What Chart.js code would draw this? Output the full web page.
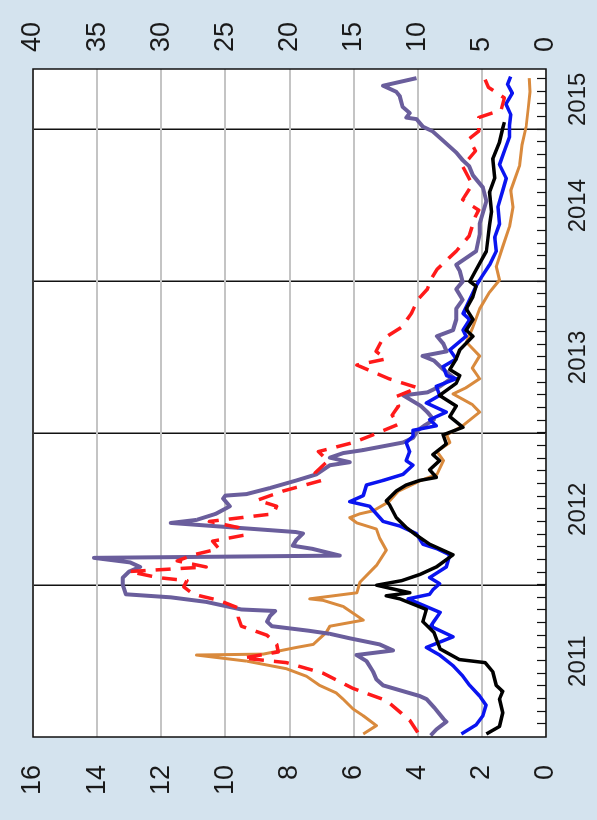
<!DOCTYPE html>
<html>
<head>
<meta charset="utf-8">
<script src="https://cdn.jsdelivr.net/npm/chart.js@4.4.1/dist/chart.umd.min.js"></script>
<style>
  html, body { margin: 0; padding: 0; background: #d4e3ee; width: 597px; height: 820px; overflow: hidden; }
  /* chart is drawn landscape and turned a quarter turn, like the source figure */
  #wrap { position: absolute; left: 0; top: 0; width: 820px; height: 597px;
          transform-origin: 0 0; transform: translate(0, 820px) rotate(-90deg); }
</style>
</head>
<body>
<div id="wrap"><canvas id="chart" width="820" height="597"></canvas></div>
<script>
// time in decimal years, values in left-axis units (0-16)
const purpleT = [2011.01, 2011.05, 2011.10, 2011.12, 2011.19, 2011.25, 2011.27, 2011.34, 2011.38, 2011.43, 2011.50, 2011.54, 2011.57, 2011.61, 2011.65, 2011.68, 2011.70, 2011.73, 2011.76, 2011.80, 2011.83, 2011.84, 2011.89, 2011.92, 2011.94, 2012.00, 2012.05, 2012.09, 2012.12, 2012.15, 2012.18, 2012.195, 2012.24, 2012.26, 2012.30, 2012.34, 2012.35, 2012.41, 2012.43, 2012.47, 2012.52, 2012.57, 2012.59, 2012.60, 2012.64, 2012.69, 2012.73, 2012.79, 2012.81, 2012.84, 2012.87, 2012.89, 2012.94, 2012.97, 2013.02, 2013.05, 2013.09, 2013.14, 2013.18, 2013.25, 2013.27, 2013.31, 2013.37, 2013.42, 2013.48, 2013.51, 2013.54, 2013.59, 2013.64, 2013.68, 2013.75, 2013.82, 2013.88, 2013.95, 2014.00, 2014.07, 2014.11, 2014.20, 2014.31, 2014.38, 2014.53, 2014.62, 2014.70, 2014.76, 2014.80, 2014.85, 2014.93, 2014.99, 2015.02, 2015.07, 2015.08, 2015.11, 2015.15, 2015.22, 2015.25, 2015.29, 2015.34];
const purpleV = [3.6, 3.42, 3.11, 3.2, 3.47, 3.73, 3.94, 5.08, 5.29, 5.39, 5.6, 5.91, 4.77, 5.19, 6.12, 6.75, 7.4, 8.55, 8.7, 8.6, 8.45, 9.5, 10.6, 11.7, 13.1, 13.2, 13.2, 13.0, 12.66, 12.97, 14.1, 6.43, 7.3, 7.9, 7.78, 7.58, 7.8, 11.7, 10.9, 10.3, 9.86, 10.07, 10.0, 9.34, 8.61, 7.78, 7.16, 6.74, 6.12, 6.74, 6.33, 5.7, 4.46, 4.15, 4.0, 3.8, 3.5, 3.7, 3.9, 4.45, 3.7, 3.3, 2.9, 3.2, 3.5, 3.85, 3.1, 3.2, 3.4, 2.9, 2.8, 2.8, 2.6, 2.8, 2.6, 2.69, 2.8, 2.18, 2.07, 2.07, 1.86, 1.97, 2.28, 2.4, 2.6, 2.8, 3.22, 3.54, 3.84, 4.04, 4.36, 4.25, 4.47, 4.56, 4.67, 5.08, 4.04];

const redT = [2011.03, 2011.11, 2011.24, 2011.32, 2011.42, 2011.49, 2011.52, 2011.56, 2011.61, 2011.67, 2011.73, 2011.79, 2011.85, 2011.90, 2011.94, 2011.99, 2012.03, 2012.05, 2012.09, 2012.12, 2012.16, 2012.20, 2012.24, 2012.29, 2012.33, 2012.38, 2012.42, 2012.47, 2012.52, 2012.56, 2012.62, 2012.69, 2012.74, 2012.82, 2012.88, 2012.94, 2012.99, 2013.06, 2013.12, 2013.18, 2013.24, 2013.30, 2013.36, 2013.45, 2013.49, 2013.54, 2013.62, 2013.70, 2013.79, 2013.88, 2013.95, 2014.01, 2014.08, 2014.20, 2014.30, 2014.43, 2014.47, 2014.54, 2014.64, 2014.76, 2014.86, 2014.94, 2014.99, 2015.03, 2015.08, 2015.13, 2015.21, 2015.28, 2015.33];
const redV = [4.0, 4.25, 4.98, 6.02, 6.95, 8.1, 9.45, 8.35, 8.4, 8.7, 9.5, 9.6, 9.6, 10.2, 11.0, 11.3, 11.2, 12.1, 13.0, 10.6, 11.5, 11.0, 10.2, 10.4, 9.4, 9.6, 10.5, 8.5, 8.4, 9.0, 8.2, 7.0, 7.2, 6.8, 7.1, 6.0, 5.4, 4.6, 4.8, 4.6, 4.7, 4.0, 4.9, 5.9, 5.0, 5.3, 5.1, 4.5, 4.2, 4.0, 3.7, 3.6, 3.4, 2.8, 2.4, 2.2, 2.1, 2.6, 2.3, 2.6, 2.2, 2.4, 2.1, 2.1, 2.1, 1.4, 1.3, 1.8, 1.9];

const orangeT = [2011.02, 2011.075, 2011.14, 2011.185, 2011.25, 2011.29, 2011.34, 2011.40, 2011.45, 2011.50, 2011.524, 2011.54, 2011.546, 2011.59, 2011.61, 2011.69, 2011.73, 2011.77, 2011.86, 2011.90, 2011.91, 2011.95, 2012.02, 2012.13, 2012.23, 2012.31, 2012.37, 2012.41, 2012.445, 2012.47, 2012.49, 2012.55, 2012.62, 2012.69, 2012.73, 2012.82, 2012.88, 2012.94, 2012.99, 2013.05, 2013.14, 2013.19, 2013.26, 2013.30, 2013.36, 2013.43, 2013.51, 2013.60, 2013.70, 2013.82, 2013.93, 2014.01, 2014.10, 2014.23, 2014.36, 2014.49, 2014.60, 2014.76, 2014.90, 2015.02, 2015.15, 2015.25, 2015.34];
const orangeV = [5.7, 5.29, 5.7, 6.02, 6.33, 6.54, 7.06, 7.47, 8.1, 9.34, 10.28, 10.9, 8.82, 7.78, 7.26, 6.85, 6.74, 5.7, 6.33, 6.95, 7.37, 5.9, 5.8, 5.29, 4.98, 5.19, 5.29, 5.9, 6.12, 5.81, 5.39, 4.9, 4.6, 3.9, 3.4, 3.2, 3.4, 3.0, 3.1, 2.6, 2.07, 2.3, 2.9, 2.5, 2.07, 2.3, 2.07, 2.48, 2.28, 2.07, 1.76, 1.45, 1.55, 1.35, 1.14, 1.03, 1.1, 0.83, 0.75, 0.62, 0.55, 0.5, 0.52];

const blueT = [2011.02, 2011.08, 2011.14, 2011.21, 2011.27, 2011.34, 2011.40, 2011.47, 2011.54, 2011.59, 2011.66, 2011.73, 2011.76, 2011.82, 2011.91, 2011.94, 2011.97, 2012.01, 2012.05, 2012.12, 2012.20, 2012.24, 2012.27, 2012.34, 2012.39, 2012.42, 2012.47, 2012.52, 2012.55, 2012.59, 2012.66, 2012.69, 2012.73, 2012.79, 2012.82, 2012.88, 2012.94, 2012.98, 2013.02, 2013.05, 2013.09, 2013.14, 2013.20, 2013.25, 2013.31, 2013.36, 2013.38, 2013.44, 2013.49, 2013.55, 2013.64, 2013.68, 2013.75, 2013.79, 2013.88, 2013.97, 2014.01, 2014.11, 2014.20, 2014.29, 2014.38, 2014.49, 2014.60, 2014.68, 2014.77, 2014.86, 2014.95, 2015.03, 2015.10, 2015.17, 2015.24, 2015.30, 2015.35];
const blueV = [2.64, 2.18, 1.97, 1.87, 2.07, 2.38, 2.59, 2.9, 3.32, 3.73, 2.9, 3.6, 3.5, 3.3, 4.3, 3.63, 3.53, 3.32, 3.63, 3.11, 3.0, 3.4, 3.84, 4.05, 4.56, 5.08, 5.29, 5.5, 6.12, 5.7, 5.6, 5.08, 4.46, 4.15, 4.36, 4.25, 4.36, 4.15, 4.15, 3.42, 3.63, 3.11, 3.73, 3.32, 3.42, 2.8, 3.1, 3.21, 2.8, 3.0, 2.49, 2.59, 2.38, 2.59, 2.38, 2.18, 2.07, 1.76, 1.55, 1.6, 1.45, 1.5, 1.35, 1.24, 1.45, 1.3, 1.14, 1.14, 1.1, 1.25, 1.05, 1.2, 1.1];

const blackT = [2011.02, 2011.07, 2011.16, 2011.25, 2011.30, 2011.34, 2011.43, 2011.49, 2011.51, 2011.58, 2011.69, 2011.76, 2011.84, 2011.91, 2011.93, 2011.95, 2012.00, 2012.03, 2012.07, 2012.12, 2012.20, 2012.27, 2012.33, 2012.38, 2012.445, 2012.53, 2012.555, 2012.62, 2012.66, 2012.69, 2012.71, 2012.76, 2012.82, 2012.86, 2012.93, 2012.99, 2013.04, 2013.11, 2013.18, 2013.25, 2013.33, 2013.38, 2013.42, 2013.49, 2013.55, 2013.64, 2013.68, 2013.75, 2013.82, 2013.90, 2013.97, 2014.00, 2014.07, 2014.20, 2014.37, 2014.46, 2014.59, 2014.68, 2014.81, 2014.92, 2015.01, 2015.05];
const blackV = [1.86, 1.45, 1.35, 1.45, 1.35, 1.55, 1.66, 1.9, 2.7, 3.3, 3.5, 3.84, 3.73, 4.56, 4.98, 4.25, 5.28, 4.5, 3.94, 3.42, 2.9, 3.63, 4.05, 4.36, 4.67, 4.88, 4.98, 4.67, 4.36, 3.94, 3.42, 3.63, 3.32, 3.53, 3.11, 3.21, 2.59, 3.0, 2.8, 3.32, 2.8, 2.69, 3.0, 2.8, 2.69, 2.28, 2.49, 2.28, 2.49, 2.28, 2.18, 2.38, 2.2, 1.86, 1.76, 1.7, 1.76, 1.6, 1.66, 1.45, 1.35, 1.3];

// axis ticks
const leftTicks = [0, 2, 4, 6, 8, 10, 12, 14, 16];
const rightTicks = [0, 5, 10, 15, 20, 25, 30, 35, 40];
const yearLabels = ['2011', '2012', '2013', '2014', '2015'];
const yearLabelPos = [2011.5, 2012.5, 2013.5, 2014.5, 2015.2];
const tMin = 2011.0, tMax = 2015.40;

const monthTicks = [];
for (let m = 1; 2011 + m / 12 < tMax; m++) monthTicks.push(2011 + m / 12);

function pts(t, v) { return t.map((x, i) => ({ x: x, y: v[i] })); }

const FONT = '"Liberation Sans", Arial, sans-serif';

// white plot area, black frame and inward monthly ticks
const framePlugin = {
    id: 'frame',
    beforeDraw(chart) {
        const a = chart.chartArea, ctx = chart.ctx;
        ctx.save();
        ctx.fillStyle = '#ffffff';
        ctx.fillRect(a.left, a.top, a.right - a.left, a.bottom - a.top);
        ctx.restore();
    },
    afterDraw(chart) {
        const a = chart.chartArea, ctx = chart.ctx, x = chart.scales.x;
        ctx.save();
        ctx.strokeStyle = '#111';
        ctx.lineWidth = 1.5;
        ctx.strokeRect(a.left, a.top, a.right - a.left, a.bottom - a.top);
        ctx.lineWidth = 1.2;
        ctx.beginPath();
        x.ticks.forEach(t => {
            const px = Math.round(x.getPixelForValue(t.value)) + 0.5;
            ctx.moveTo(px, a.bottom);
            ctx.lineTo(px, a.bottom - 9);
        });
        ctx.stroke();
        ctx.restore();
    }
};

const lineDefaults = { pointRadius: 0, tension: 0, fill: false, borderJoinStyle: 'round', yAxisID: 'y', xAxisID: 'x' };

// fixed axis sizes so the plot box sits where it does in the source
function fixWidth(w) {
    return s => { s.width = w; s.paddingTop = 0; s.paddingBottom = 0; };
}

new Chart(document.getElementById('chart'), {
    type: 'line',
    data: {
        datasets: [
            Object.assign({ data: pts(redT, redV), borderColor: '#ff1a1a', borderWidth: 3.5, borderDash: [15, 10], order: 1 }, lineDefaults),
            Object.assign({ data: pts(blackT, blackV), borderColor: '#000000', borderWidth: 3.5, order: 2 }, lineDefaults),
            Object.assign({ data: pts(blueT, blueV), borderColor: '#0a14f0', borderWidth: 3.5, order: 3 }, lineDefaults),
            Object.assign({ data: pts(purpleT, purpleV), borderColor: '#6a5e9c', borderWidth: 4, order: 4 }, lineDefaults),
            Object.assign({ data: pts(orangeT, orangeV), borderColor: '#d98a3d', borderWidth: 3, order: 5 }, lineDefaults)
        ]
    },
    options: {
        responsive: false,
        animation: false,
        layout: { padding: { top: 33, left: 0, right: 0, bottom: 0 } },
        plugins: { legend: { display: false }, tooltip: { enabled: false } },
        scales: {
            x: {
                type: 'linear', position: 'bottom', min: tMin, max: tMax,
                afterBuildTicks: s => { s.ticks = monthTicks.map(v => ({ value: v })); },
                afterFit: s => { s.height = 0; s.paddingLeft = 0; s.paddingRight = 0; },
                ticks: { display: false },
                border: { display: false },
                grid: {
                    drawTicks: false,
                    lineWidth: 1.5,
                    color: c => (Math.abs(c.tick.value - Math.round(c.tick.value)) < 1e-6 ? '#111' : 'rgba(0,0,0,0)')
                }
            },
            x2: {
                type: 'linear', position: 'bottom', min: tMin, max: tMax,
                afterBuildTicks: s => { s.ticks = yearLabelPos.map(v => ({ value: v })); },
                afterFit: s => { s.height = 51; s.paddingLeft = 0; s.paddingRight = 0; },
                ticks: { callback: (v, i) => yearLabels[i], maxRotation: 0, autoSkip: false, padding: 18, color: '#1a1a1a', font: { family: FONT, size: 24 } },
                border: { display: false },
                grid: { display: false, drawTicks: false }
            },
            y: {
                position: 'left', min: 0, max: 16,
                afterBuildTicks: s => { s.ticks = leftTicks.map(v => ({ value: v })); },
                afterFit: fixWidth(83),
                ticks: { padding: 28, color: '#1a1a1a', font: { family: FONT, size: 27 } },
                border: { display: false },
                grid: { drawTicks: false, color: '#c4c4c4', lineWidth: 2 }
            },
            y2: {
                position: 'right', min: 0, max: 40,
                afterBuildTicks: s => { s.ticks = rightTicks.map(v => ({ value: v })); },
                afterFit: fixWidth(69),
                ticks: { padding: 17, color: '#1a1a1a', font: { family: FONT, size: 27 } },
                border: { display: false },
                grid: { display: false, drawTicks: false }
            }
        }
    },
    plugins: [framePlugin]
});
</script>
</body>
</html>
